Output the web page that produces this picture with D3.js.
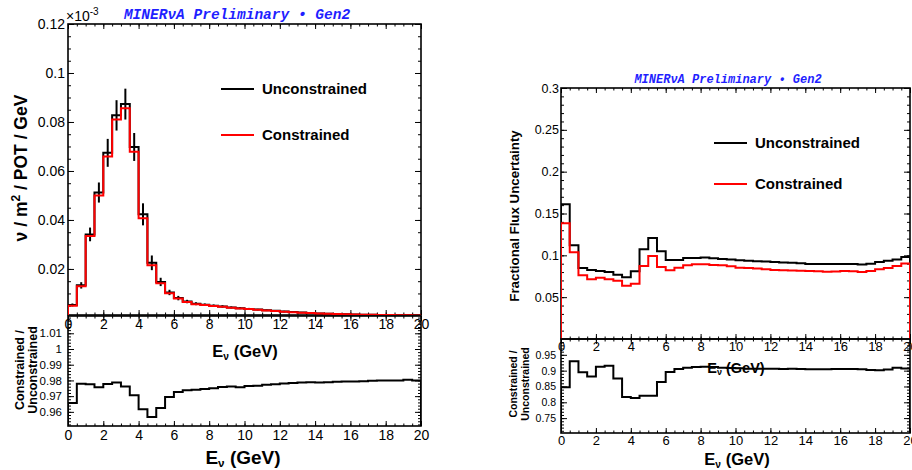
<!DOCTYPE html>
<html>
<head>
<meta charset="utf-8">
<script src="https://cdn.jsdelivr.net/npm/d3@7"></script>
<style>
  body { margin: 0; background: #fff; }
  svg { font-family: "Liberation Sans", Arial, Helvetica, sans-serif; }
</style>
</head>
<body>
<svg id="chart" width="912" height="470"></svg>
<script>
// bin edges in GeV, 0.5 GeV bins
const binEdges = d3.range(0, 20.25, 0.5);

// neutrino flux per bin (nu / m^2 / POT / GeV)
const fluxUnconstrained = [0.0053, 0.0133, 0.0341, 0.0512, 0.0674, 0.0827, 0.0873, 0.0698, 0.0423, 0.0225,
  0.0147, 0.0104, 0.0081, 0.0067, 0.0058, 0.0054, 0.0050, 0.0047, 0.0043, 0.0040,
  0.0037, 0.0034, 0.0031, 0.0029, 0.0026, 0.0024, 0.0022, 0.0020, 0.0018, 0.0017,
  0.0016, 0.0015, 0.0014, 0.0013, 0.0013, 0.0012, 0.0012, 0.0011, 0.0011, 0.0010];
const fluxConstrained = [0.0050, 0.0129, 0.0335, 0.0500, 0.0659, 0.0810, 0.0856, 0.0678, 0.0407, 0.0215,
  0.0142, 0.0101, 0.0079, 0.0065, 0.0056, 0.0053, 0.0049, 0.0046, 0.0042, 0.0039,
  0.0036, 0.0033, 0.0030, 0.0028, 0.0025, 0.0023, 0.0021, 0.0020, 0.0018, 0.0017,
  0.0016, 0.0015, 0.0014, 0.0013, 0.0013, 0.0012, 0.0012, 0.0011, 0.0011, 0.0010];
const fluxErr = [0.0006, 0.0013, 0.0028, 0.0041, 0.0057, 0.0062, 0.0063, 0.0057, 0.0045, 0.0030,
  0.0017, 0.0011, 0.0009, 0.0007, 0.0006, 0.0005, 0.0005, 0.0005, 0.0004, 0.0004,
  0.0004, 0.0003, 0.0003, 0.0003, 0.0003, 0.0002, 0.0002, 0.0002, 0.0002, 0.0002,
  0.0002, 0.0001, 0.0001, 0.0001, 0.0001, 0.0001, 0.0001, 0.0001, 0.0001, 0.0001];
const ratioFlux = [0.9657, 0.9779, 0.9775, 0.9756, 0.9777, 0.9787, 0.9762, 0.9705, 0.9617, 0.9568,
  0.9625, 0.9695, 0.9726, 0.9737, 0.9741, 0.9745, 0.9750, 0.9758, 0.9762, 0.9756,
  0.9764, 0.9766, 0.9773, 0.9775, 0.9781, 0.9783, 0.9787, 0.9789, 0.9787, 0.9789,
  0.9791, 0.9793, 0.9793, 0.9795, 0.9798, 0.9800, 0.9800, 0.9800, 0.9804, 0.9800];

// fractional flux uncertainty per bin
const uncUnconstrained = [0.1610, 0.1121, 0.0849, 0.0825, 0.0813, 0.0801, 0.0769, 0.0737, 0.0809, 0.1073,
  0.1206, 0.1049, 0.0945, 0.0945, 0.0969, 0.0969, 0.0973, 0.0965, 0.0957, 0.0950,
  0.0941, 0.0936, 0.0930, 0.0925, 0.0920, 0.0915, 0.0910, 0.0905, 0.0897, 0.0897,
  0.0897, 0.0897, 0.0897, 0.0895, 0.0890, 0.0900, 0.0920, 0.0935, 0.0950, 0.0980];
const uncConstrained = [0.1382, 0.1037, 0.0761, 0.0713, 0.0733, 0.0713, 0.0697, 0.0637, 0.0661, 0.0873,
  0.0993, 0.0861, 0.0821, 0.0853, 0.0881, 0.0893, 0.0893, 0.0885, 0.0880, 0.0870,
  0.0853, 0.0848, 0.0842, 0.0835, 0.0825, 0.0822, 0.0820, 0.0815, 0.0813, 0.0810,
  0.0805, 0.0808, 0.0813, 0.0810, 0.0801, 0.0812, 0.0833, 0.0850, 0.0873, 0.0901];
const ratioUnc = [0.8479, 0.9295, 0.8950, 0.8812, 0.9126, 0.9157, 0.8749, 0.8165, 0.8133, 0.8206,
  0.8206, 0.8645, 0.8959, 0.9053, 0.9094, 0.9115, 0.9126, 0.9115, 0.9094, 0.9084,
  0.9073, 0.9063, 0.9063, 0.9063, 0.9063, 0.9053, 0.9063, 0.9053, 0.9042, 0.9042,
  0.9042, 0.9053, 0.9053, 0.9053, 0.9042, 0.9021, 0.9010, 0.9040, 0.9094, 0.9070];

const legendLabels = ["Unconstrained", "Constrained"];
const xTickValues = d3.range(0, 21, 2);
const titleText = "MINERνA Preliminary • Gen2";

const svg = d3.select("#chart");
const BLACK = "#000", RED = "#ff0000";
let clipId = 0;

// ROOT-ish frame: ticks inside on all four sides
function panel(o) {
  const x = d3.scaleLinear().domain([0, 20]).range([o.left, o.right]);
  const y = d3.scaleLinear().domain(o.yDomain).range([o.bottom, o.top]);
  const g = svg.append("g");

  const fmt = d3.format("~g");
  const xMinor = d3.range(0, 20.01, 0.5);

  function styleAxis(sel, size) {
    sel.select(".domain").remove();
    sel.selectAll("line").attr("stroke", BLACK).attr("stroke-width", 1);
    sel.attr("font-family", null).attr("font-size", size);
    sel.selectAll("text").attr("fill", BLACK);
  }

  // x axis bottom (major with labels, minor)
  g.append("g").attr("transform", `translate(0,${o.bottom})`)
    .call(d3.axisBottom(x).tickValues(xTickValues).tickSize(-o.xTick).tickPadding(o.xPad)
      .tickFormat(o.xLabels ? d3.format("d") : ""))
    .call(s => styleAxis(s, o.xFont));
  g.append("g").attr("transform", `translate(0,${o.bottom})`)
    .call(d3.axisBottom(x).tickValues(xMinor).tickSize(-o.xTick / 2).tickFormat(""))
    .call(s => styleAxis(s, 0));
  // x axis top
  g.append("g").attr("transform", `translate(0,${o.top})`)
    .call(d3.axisTop(x).tickValues(xTickValues).tickSize(-o.xTick).tickFormat(""))
    .call(s => styleAxis(s, 0));
  g.append("g").attr("transform", `translate(0,${o.top})`)
    .call(d3.axisTop(x).tickValues(xMinor).tickSize(-o.xTick / 2).tickFormat(""))
    .call(s => styleAxis(s, 0));
  // y axis left
  g.append("g").attr("transform", `translate(${o.left},0)`)
    .call(d3.axisLeft(y).tickValues(o.yMajor).tickSize(-o.yTick).tickPadding(o.yPad).tickFormat(fmt))
    .call(s => styleAxis(s, o.yFont));
  g.append("g").attr("transform", `translate(${o.left},0)`)
    .call(d3.axisLeft(y).tickValues(o.yMinor).tickSize(-o.yTick / 2).tickFormat(""))
    .call(s => styleAxis(s, 0));
  // y axis right
  g.append("g").attr("transform", `translate(${o.right},0)`)
    .call(d3.axisRight(y).tickValues(o.yMajor).tickSize(-o.yTick).tickFormat(""))
    .call(s => styleAxis(s, 0));
  g.append("g").attr("transform", `translate(${o.right},0)`)
    .call(d3.axisRight(y).tickValues(o.yMinor).tickSize(-o.yTick / 2).tickFormat(""))
    .call(s => styleAxis(s, 0));

  g.append("rect")
    .attr("x", o.left).attr("y", o.top)
    .attr("width", o.right - o.left).attr("height", o.bottom - o.top)
    .attr("fill", "none").attr("stroke", BLACK).attr("stroke-width", 1.6);

  const id = "clip" + (clipId++);
  svg.append("clipPath").attr("id", id).append("rect")
    .attr("x", o.left).attr("y", o.top - 1)
    .attr("width", o.right - o.left).attr("height", o.bottom - o.top + 1);
  const plot = svg.append("g").attr("clip-path", `url(#${id})`);
  return { x, y, plot };
}

// step histogram through the scales
function drawHist(p, values, color, base) {
  const pts = [[binEdges[0], base]];
  values.forEach((v, i) => { pts.push([binEdges[i], v]); pts.push([binEdges[i + 1], v]); });
  pts.push([binEdges[binEdges.length - 1], base]);
  const line = d3.line().x(d => p.x(d[0])).y(d => p.y(d[1]));
  p.plot.append("path").datum(pts)
    .attr("d", line).attr("fill", "none")
    .attr("stroke", color).attr("stroke-width", 2);
}

function drawErrors(p, values, errs) {
  p.plot.selectAll(null).data(values).enter().append("line")
    .attr("x1", (d, i) => p.x((binEdges[i] + binEdges[i + 1]) / 2))
    .attr("x2", (d, i) => p.x((binEdges[i] + binEdges[i + 1]) / 2))
    .attr("y1", (d, i) => p.y(d - errs[i]))
    .attr("y2", (d, i) => p.y(d + errs[i]))
    .attr("stroke", BLACK).attr("stroke-width", 2);
}

function xTitle(cx, cy, size) {
  const t = svg.append("text").attr("x", cx).attr("y", cy)
    .attr("text-anchor", "middle").attr("font-size", size).attr("font-weight", "bold");
  t.append("tspan").text("E");
  t.append("tspan").attr("font-size", size * 0.62).attr("dy", size * 0.17).text("ν");
  t.append("tspan").attr("dy", -size * 0.17).text(" (GeV)");
}

function yTitleRatio(cx, cy, size, gap) {
  const t = svg.append("text").attr("transform", `translate(${cx},${cy}) rotate(-90)`)
    .attr("text-anchor", "middle").attr("font-size", size).attr("font-weight", "bold");
  t.append("tspan").attr("x", 0).attr("y", 0).text("Constrained /");
  t.append("tspan").attr("x", 0).attr("y", gap).text("Unconstrained");
}

function banner(cx, cy, size) {
  svg.append("text").attr("x", cx).attr("y", cy)
    .attr("text-anchor", "middle")
    .attr("font-family", "'Liberation Mono', 'DejaVu Sans Mono', monospace")
    .attr("font-weight", "bold").attr("font-style", "italic")
    .attr("font-size", size).attr("fill", "#1f1fff")
    .text(titleText);
}

function legend(x0, y0, gap, size) {
  [BLACK, RED].forEach((c, i) => {
    svg.append("line").attr("x1", x0).attr("x2", x0 + 33)
      .attr("y1", y0 + i * gap).attr("y2", y0 + i * gap)
      .attr("stroke", c).attr("stroke-width", 2);
    svg.append("text").attr("x", x0 + 41).attr("y", y0 + i * gap).attr("dy", "0.36em")
      .attr("font-size", size).attr("font-weight", "bold").text(legendLabels[i]);
  });
}

// ---------- left: flux ----------
const fluxPanel = panel({
  left: 68, right: 421, top: 24, bottom: 315,
  yDomain: [0.0012, 0.12],
  yMajor: d3.range(0.02, 0.121, 0.02), yMinor: d3.range(0.005, 0.1201, 0.005),
  xTick: 5, yTick: 6, xPad: 4, yPad: 3, xFont: 14, yFont: 14, xLabels: true
});
drawHist(fluxPanel, fluxUnconstrained, BLACK, 0);
drawErrors(fluxPanel, fluxUnconstrained, fluxErr);
drawHist(fluxPanel, fluxConstrained, RED, 0);

const fluxRatio = panel({
  left: 68, right: 421, top: 316, bottom: 426,
  yDomain: [0.951, 1.021],
  yMajor: d3.range(0.96, 1.0101, 0.01), yMinor: d3.range(0.952, 1.0201, 0.002),
  xTick: 5, yTick: 6, xPad: 4, yPad: 6, xFont: 14, yFont: 11.5, xLabels: true
});
drawHist(fluxRatio, ratioFlux, BLACK, 0.9);

// ×10^-3 exponent label
const expo = svg.append("text").attr("x", 66).attr("y", 21).attr("font-size", 14);
expo.append("tspan").text("×10");
expo.append("tspan").attr("font-size", 10).attr("dy", -6).text("-3");

banner(237, 19, 14.5);
legend(221, 89, 46, 15);
xTitle(245, 357, 16.5);
xTitle(243, 464, 19);

svg.append("text").attr("transform", "translate(27,168) rotate(-90)")
  .attr("text-anchor", "middle").attr("font-size", 17.5).attr("font-weight", "bold")
  .call(t => {
    t.append("tspan").text("ν / m");
    t.append("tspan").attr("font-size", 12).attr("dy", -7).text("2");
    t.append("tspan").attr("dy", 7).text(" / POT / GeV");
  });
yTitleRatio(24, 370, 12.5, 13);

// ---------- right: fractional uncertainty ----------
const uncPanel = panel({
  left: 561, right: 910, top: 88, bottom: 339,
  yDomain: [0, 0.3],
  yMajor: d3.range(0.05, 0.301, 0.05), yMinor: d3.range(0.01, 0.3001, 0.01),
  xTick: 5, yTick: 6, xPad: 3, yPad: 2, xFont: 13, yFont: 12.5, xLabels: true
});
drawHist(uncPanel, uncUnconstrained, BLACK, 0);
drawHist(uncPanel, uncConstrained, RED, 0);

const uncRatio = panel({
  left: 561, right: 910, top: 339, bottom: 433,
  yDomain: [0.703, 1.0],
  yMajor: d3.range(0.75, 0.951, 0.05), yMinor: d3.range(0.71, 0.9901, 0.01),
  xTick: 5, yTick: 6, xPad: 3, yPad: 5, xFont: 13, yFont: 10.5, xLabels: true
});
drawHist(uncRatio, ratioUnc, BLACK, 0.6);

banner(728, 83, 12);
legend(714, 143, 41, 15);
xTitle(736, 373, 14.5);
xTitle(737, 465, 16.5);

svg.append("text").attr("transform", "translate(519,216) rotate(-90)")
  .attr("text-anchor", "middle").attr("font-size", 13.3).attr("font-weight", "bold")
  .text("Fractional Flux Uncertainty");
yTitleRatio(517, 384, 10.5, 12);
</script>
</body>
</html>
